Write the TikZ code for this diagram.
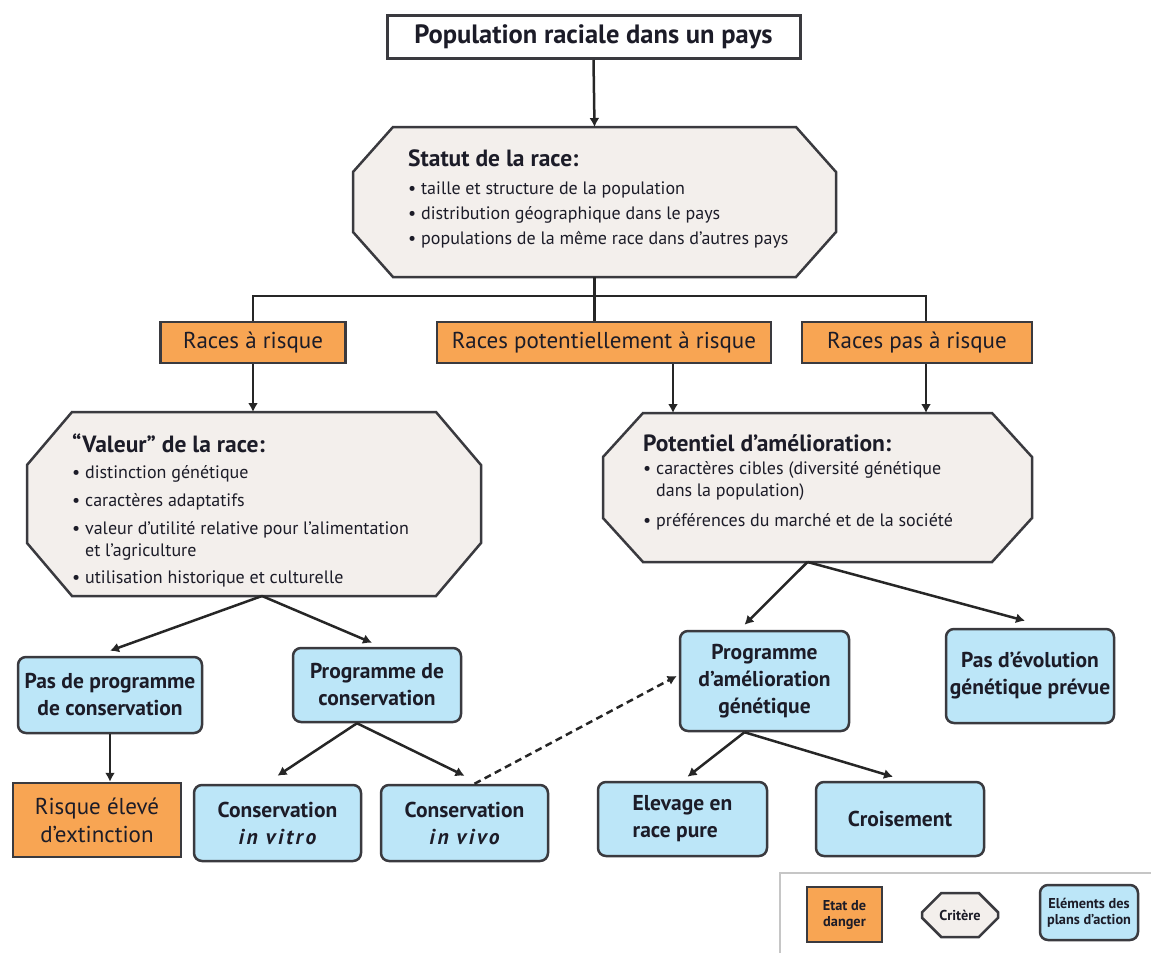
\documentclass[tikz,border=0pt]{standalone}
\usepackage{fontspec}
\setmainfont{PT Sans}
\usetikzlibrary{shapes.misc,arrows.meta}
\definecolor{danger}{HTML}{F8A553}
\definecolor{action}{HTML}{BCE6F8}
\definecolor{critfond}{HTML}{F3EFEC}
\definecolor{bord}{HTML}{3A3A3F}
\definecolor{encre}{HTML}{1C1C28}
\newcommand{\puce}{\textbullet\ }
\newcommand{\retrait}{\hphantom{\textbullet\ }}
% octagon drawn on the frame of an empty node: name, chamfer x, chamfer y
\newcommand{\octogone}[3]{%
  \filldraw[draw=bord, fill=critfond, line width=2.5pt]
    ([xshift=#2]#1.north west) -- ([xshift=-#2]#1.north east) -- ([yshift=-#3]#1.north east)
    -- ([yshift=#3]#1.south east) -- ([xshift=-#2]#1.south east) -- ([xshift=#2]#1.south west)
    -- ([yshift=#3]#1.south west) -- ([yshift=-#3]#1.north west) -- cycle;}
\begin{document}
\begin{tikzpicture}[x=1pt, y=-1pt,
  boite/.style={draw=bord, line width=2.5pt, text=encre, align=center, inner sep=2pt},
  danger/.style={boite, fill=danger, font=\fontsize{23}{28}\selectfont},
  action/.style={boite, fill=action, rounded corners=8pt, font=\fontsize{21.5}{27}\selectfont\bfseries},
  cadre/.style={rectangle, inner sep=0pt, outer sep=0pt},
  crittexte/.style={align=left, inner sep=0pt, text=encre, font=\fontsize{18}{22}\selectfont},
  fleche/.style={-{Latex[length=9pt,width=10pt]}, line width=2.5pt, draw=black!85}]
  \useasboundingbox (0,0) rectangle (1151,953);
  % Title
  \node[boite, fill=white, line width=3pt, minimum width=413pt, minimum height=43pt,
        font=\fontsize{26.5}{32}\selectfont\bfseries] (pop) at (593.5,37) {Population raciale dans un pays};
  % Statut de la race
  \node[cadre, minimum width=483pt, minimum height=150pt] (statut) at (594.5,202) {};
  \octogone{statut}{40pt}{45pt}
  \node[crittexte, anchor=north west, font=\fontsize{18}{25}\selectfont] (statuttxt) at (408,149.5) {%
    {\fontsize{23.5}{26}\selectfont\bfseries Statut de la race:}\\[3.5pt]
    \puce taille et structure de la population\\
    \puce distribution géographique dans le pays\\
    \puce populations de la même race dans d’autres pays};
  % Risk classes
  \node[danger, minimum width=185pt, minimum height=41pt] (risque) at (253,342.5) {Races à risque};
  \node[danger, minimum width=334pt, minimum height=41pt] (potrisque) at (604,342.5) {Races potentiellement à risque};
  \node[danger, minimum width=230pt, minimum height=41pt] (pasrisque) at (917,342.5) {Races pas à risque};
  \coordinate (branche) at (594.5,296);
  \draw[line width=2.5pt, black!85] (statut.south) -- (potrisque.north -| statut.south);
  \draw[line width=2.5pt, black!85] (risque.north) |- (branche) -| ([xshift=9pt]pasrisque.north);
  % Valeur de la race
  \node[cadre, minimum width=454pt, minimum height=184pt] (valeur) at (254,504) {};
  \octogone{valeur}{45pt}{53pt}
  \node[crittexte, anchor=north west] (valeurtxt) at (72,433.5) {%
    {\fontsize{23.5}{26}\selectfont\bfseries “Valeur” de la race:}\\[4pt]
    \puce distinction génétique\\[6pt]
    \puce caractères adaptatifs\\[6pt]
    \puce valeur d’utilité relative pour l’alimentation\\
    \retrait et l’agriculture\\[5pt]
    \puce utilisation historique et culturelle};
  % Potentiel d'amelioration
  \node[cadre, minimum width=429pt, minimum height=149pt] (potentiel) at (817.5,487.5) {};
  \octogone{potentiel}{40pt}{44pt}
  \node[crittexte, anchor=north west] (potentieltxt) at (643,434.5) {%
    {\fontsize{23.5}{26}\selectfont\bfseries Potentiel d’amélioration:}\\[1pt]
    \puce caractères cibles (diversité génétique\\
    \retrait dans la population)\\[8pt]
    \puce préférences du marché et de la société};
  \draw[fleche] (pop.south) -- (statut.north);
  \draw[fleche] (risque.south) -- (risque.south |- valeur.north);
  \draw[fleche] ([xshift=69pt]potrisque.south) -- ([xshift=69pt]potrisque.south |- potentiel.north);
  \draw[fleche] ([xshift=9pt]pasrisque.south) -- ([xshift=9pt]pasrisque.south |- potentiel.north);
  % Action plans, left
  \node[action, minimum width=184pt, minimum height=76pt] (pasprog) at (110,695) {Pas de programme\\de conservation};
  \node[action, minimum width=168pt, minimum height=74pt] (progcons) at (377,685) {Programme de\\conservation};
  \node[danger, minimum width=168pt, minimum height=74pt] (eleve) at (97,820) {Risque élevé\\d’extinction};
  \node[action, minimum width=167pt, minimum height=76pt] (vitro) at (277.5,823)
    {Conservation\\{\itshape\addfontfeature{LetterSpace=12}in vitro}};
  \node[action, minimum width=167pt, minimum height=76pt] (vivo) at (464.5,823)
    {Conservation\\{\itshape\addfontfeature{LetterSpace=12}in vivo}};
  \draw[fleche] ([xshift=8pt]valeur.south) -- ([yshift=5pt]pasprog.north);
  \draw[fleche] ([xshift=8pt]valeur.south) -- ([xshift=-5pt,yshift=4pt]progcons.north);
  \draw[fleche] (pasprog.south) -- (pasprog.south |- eleve.north);
  \draw[fleche] ([xshift=-20pt]progcons.south) -- ([yshift=8pt]vitro.north);
  \draw[fleche] ([xshift=-20pt]progcons.south) -- ([yshift=8pt]vivo.north);
  % Action plans, right
  \node[action, minimum width=169pt, minimum height=100pt] (progamel) at (764.5,681) {Programme\\d’amélioration\\génétique};
  \node[action, minimum width=168pt, minimum height=94pt] (pasevol) at (1030,676) {Pas d’évolution\\génétique prévue};
  \node[action, minimum width=169pt, minimum height=74pt, align=left] (elevage) at (682.5,819) {Elevage en\\race pure};
  \node[action, minimum width=168pt, minimum height=74pt] (croisement) at (900,819) {Croisement};
  \draw[fleche] ([xshift=-10pt]potentiel.south) -- ([xshift=-20pt,yshift=5pt]progamel.north);
  \draw[fleche] ([xshift=-10pt]potentiel.south) -- ([xshift=-5pt,yshift=7pt]pasevol.north);
  \draw[fleche] ([xshift=-20pt]progamel.south) -- ([xshift=5pt,yshift=4pt]elevage.north);
  \draw[fleche] ([xshift=-20pt]progamel.south) -- ([xshift=-7pt,yshift=4pt]croisement.north);
  \draw[fleche, dash pattern={on 7pt off 4.5pt}] ([xshift=10pt]vivo.north) -- ([xshift=-2pt,yshift=5pt]progamel.west);
  % Legend
  \draw[gray!45, line width=2.5pt] (780,953) |- (1151,873);
  \node[danger, minimum width=75pt, minimum height=55pt, font=\fontsize{14.3}{16}\selectfont\bfseries] (legdanger) at (844.5,914.5) {Etat de\\danger};
  \node[boite, fill=critfond, chamfered rectangle, minimum width=76pt, minimum height=44pt, font=\fontsize{14.3}{16}\selectfont\bfseries,
        chamfered rectangle xsep=10pt, chamfered rectangle ysep=12pt] (legcritere) at (960,915) {Critère};
  \node[action, minimum width=98pt, minimum height=55pt, inner sep=0pt, font=\fontsize{14.3}{16}\selectfont\bfseries] (legaction) at (1089,912.5) {Eléments des\\plans d’action};
\end{tikzpicture}
\end{document}
